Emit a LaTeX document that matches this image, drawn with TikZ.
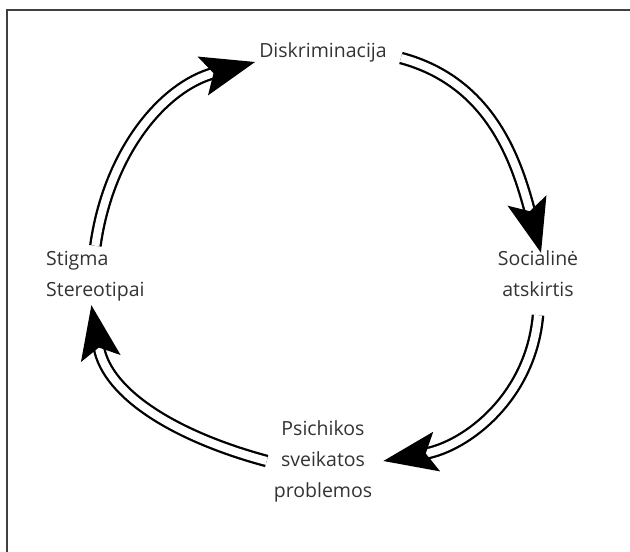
\documentclass[tikz,border=0pt]{standalone}
\usepackage{fontspec}
\setmainfont{Open Sans}
\usetikzlibrary{positioning,calc,arrows.meta}

\begin{document}
\begin{tikzpicture}[x=1pt, y=1pt]
	\useasboundingbox (0,0) rectangle (630,552);
	% frame (only top and left edge)
	\draw[black!75, line width=1.5pt] (7,0) -- (7,542) -- (630,542);
	\begin{scope}
		\tikzstyle{every node}=[inner sep=1pt, text=black!80, font=\fontsize{19.5}{31}\selectfont]
		\tikzstyle{cyc}=[double, double distance=8pt, line width=2.3pt,
			-{Stealth[length=54pt, width=40pt, inset=11pt]}]
		\node (disk) at (323, 500) {Diskriminacija};
		\node[align=center] (soc) at (538, 278) {Socialinė\\atskirtis};
		\node[align=center] (psi) at (323, 91) {Psichikos\\sveikatos\\problemos};
		\node[align=left, anchor=west] (stig) at (45, 276) {Stigma\\Stereotipai};

		\draw[cyc] ([yshift=4pt]stig.north) to[out=82, in=195] ([xshift=-3pt, yshift=-10pt]disk.west);
		\draw[cyc] ([xshift=13pt, yshift=-6pt]disk.east) to[out=-15, in=105] ([xshift=3pt, yshift=-3pt]soc.north);
		\draw[cyc] ([yshift=-17pt]soc.south) to[out=-95, in=10] ([xshift=10pt]psi.east);
		\draw[cyc] ([xshift=-6pt]psi.west) to[out=165, in=-80] ([xshift=-4pt, yshift=-3pt]stig.south);
	\end{scope}
\end{tikzpicture}
\end{document}
